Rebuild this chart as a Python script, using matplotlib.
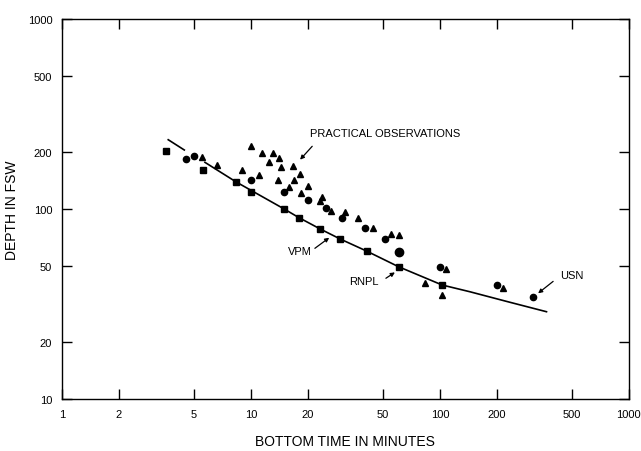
import numpy as np
import matplotlib
matplotlib.use("Agg")
import matplotlib.pyplot as plt

plt.rcParams['font.family'] = ['Liberation Sans', 'DejaVu Sans']

# VPM / RNPL schedule points (squares)
sq_t = [3.54, 5.55, 8.36, 9.96, 15.0, 17.9, 23.2, 29.7, 40.9, 60.4, 102.9]
sq_d = [201, 161, 138.7, 122.4, 100, 90.2, 78.6, 69.5, 60.1, 49.7, 39.8]

# circles
ci_t = [4.53, 4.99, 9.96, 14.9, 19.95, 24.9, 30.2, 40.3, 51.0, 100, 201, 311.7]
ci_d = [182.6, 190, 142.6, 122.5, 110.9, 100.9, 89.7, 79.1, 69.3, 49.3, 39.8, 34.3]

# big dot
big_t = [60.4]
big_d = [59.3]

# triangles (practical observations)
tr_t = [5.51, 6.63, 9.0, 11.07, 9.96, 11.5, 13.1, 14.1, 12.4, 14.4, 16.7, 18.2,
        16.9, 13.9, 15.9, 19.95, 18.3, 23.2, 23.9, 26.4, 31.4, 37, 44.4, 55.3,
        60.7, 107.2, 83, 102, 214.6]
tr_d = [187, 170, 161, 151, 215, 196, 198, 185, 176.7, 165.6, 167.8, 152.3,
        142.6, 141.6, 131, 131.4, 120.7, 109.7, 115.2, 98, 96.1, 89.3, 79.8, 73.6,
        72.7, 48.3, 40.6, 35.4, 38.5]

# curve (broken near the first markers)
cv_t = [3.65, 4.44, np.nan, 5.71, 8.36, 15.0, 17.9, 23.2, 29.7, 40.9, 60.4, 102.9, 144, 234.6, 366.7]
cv_d = [231.5, 204.4, np.nan, 176, 138.7, 100, 90.2, 78.6, 69.5, 60.1, 49.7, 39.8, 36.7, 32.3, 28.8]

fig = plt.figure(figsize=(6.41, 4.52), dpi=100)
ax = fig.add_axes([0.0967, 0.115, 0.8843, 0.8408])

ax.plot(cv_t, cv_d, color='black', lw=1.2)
ax.plot(sq_t, sq_d, 's', color='black', ms=5)
ax.plot(ci_t, ci_d, 'o', color='black', ms=4.5)
ax.plot(big_t, big_d, 'o', color='black', ms=6)
ax.plot(tr_t, tr_d, '^', color='black', ms=4.5)

ax.set_xscale('log')
ax.set_yscale('log')
ax.set_xlim(1, 1000)
ax.set_ylim(10, 1000)

xt = [1, 2, 5, 10, 20, 50, 100, 200, 500, 1000]
yt = [10, 20, 50, 100, 200, 500, 1000]
ax.set_xticks(xt)
ax.set_xticklabels([str(v) for v in xt])
ax.set_yticks(yt)
ax.set_yticklabels([str(v) for v in yt])
ax.minorticks_off()
ax.tick_params(direction='in', length=7, width=1, top=True, right=True,
               labelsize=8, pad=7)

for s in ax.spines.values():
    s.set_linewidth(1)

ax.set_xlabel('BOTTOM TIME IN MINUTES', fontsize=10, labelpad=11)
ax.set_ylabel('DEPTH IN FSW', fontsize=10, labelpad=6)

fs = 8
ax.text(20.5, 251, 'PRACTICAL OBSERVATIONS', fontsize=fs, va='center', ha='left')
ax.text(18.2, 60.3, 'VPM', fontsize=fs, va='center', ha='center')
ax.text(39.8, 41.6, 'RNPL', fontsize=fs, va='center', ha='center')
ax.text(497.6, 44.7, 'USN', fontsize=fs, va='center', ha='center')

arrow = dict(arrowstyle='-|>', color='black', lw=0.9, mutation_scale=6,
             shrinkA=0, shrinkB=0)
ax.annotate('', xy=(18.2, 181.8), xytext=(21.1, 213.8), arrowprops=arrow)
ax.annotate('', xy=(25.96, 70.6), xytext=(21.8, 62.1), arrowprops=arrow)
ax.annotate('', xy=(57.8, 46.4), xytext=(51.8, 43.2), arrowprops=arrow)
ax.annotate('', xy=(331, 36.0), xytext=(397.6, 41.6), arrowprops=arrow)

fig.savefig('out.png', dpi=100)
